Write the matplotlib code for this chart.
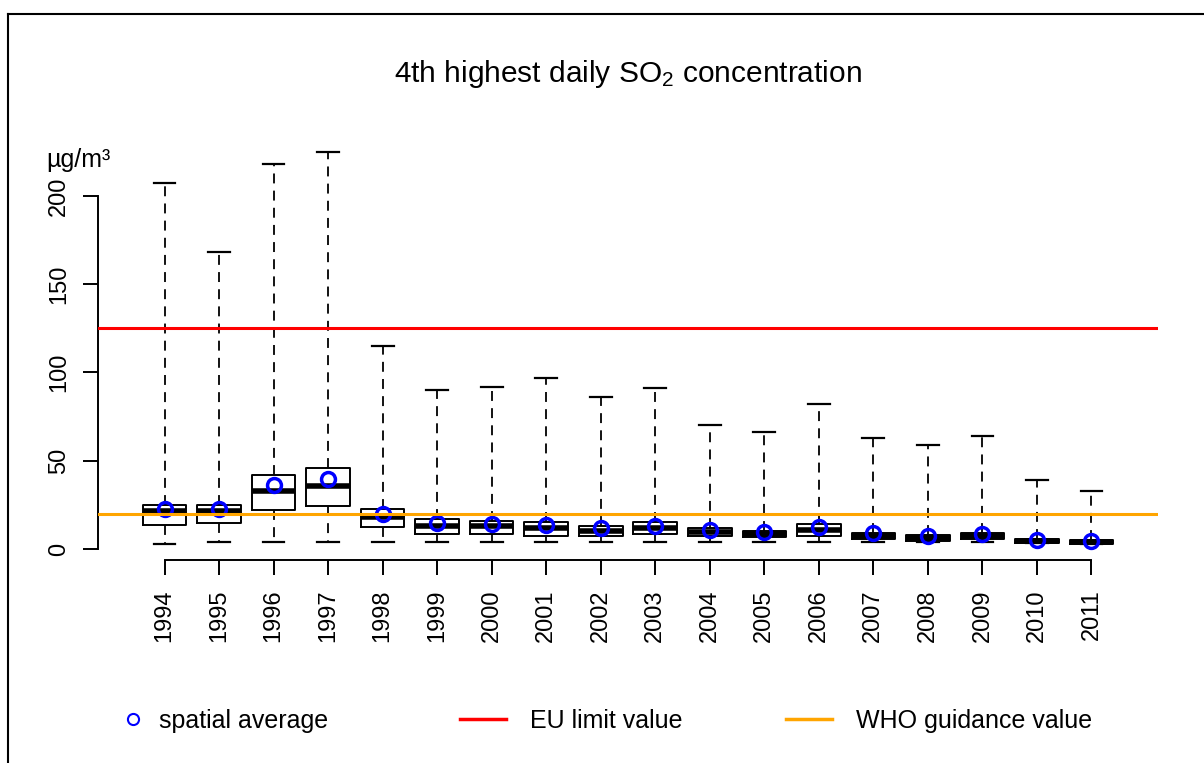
import matplotlib
matplotlib.use("Agg")
import matplotlib.pyplot as plt
from matplotlib.lines import Line2D

plt.rcParams["font.family"] = ["Liberation Sans", "DejaVu Sans"]
plt.rcParams["mathtext.default"] = "regular"

# values (ug/m3)
years = list(range(1994, 2012))
whis_hi = [207, 168, 218, 225, 115, 90, 92, 97, 86, 91, 70, 66, 82, 63, 59, 64, 39, 33]
q3 = [24.9, 24.9, 41.9, 45.7, 22.7, 17.0, 15.9, 15.1, 13.0, 15.1, 11.9, 10.4, 14.0, 9.2, 8.1, 8.9, 5.8, 5.1]
medians = [21.7, 21.7, 32.9, 35.9, 18.0, 13.0, 12.9, 11.7, 10.4, 12.1, 9.8, 8.5, 10.8, 7.4, 6.4, 7.4, 4.7, 4.0]
q1 = [13.6, 14.6, 21.9, 24.5, 12.6, 8.7, 8.5, 7.4, 7.6, 8.7, 7.6, 6.6, 7.6, 5.5, 4.5, 5.5, 3.6, 3.0]
whis_lo = [2.8, 3.8, 3.8, 3.8, 3.8, 4.0, 4.0, 4.0, 4.0, 4.0, 4.0, 4.0, 4.0, 4.0, 4.0, 4.0, 3.2, 2.8]
means = [22.5, 22.5, 36.1, 39.5, 19.7, 14.6, 14.3, 13.4, 11.9, 13.2, 10.6, 9.6, 12.3, 9.2, 7.4, 8.7, 5.1, 4.7]
eu_limit = 125
who_guide = 20

stats = []
for i in range(len(years)):
    stats.append({"label": str(years[i]), "med": medians[i], "q1": q1[i], "q3": q3[i],
                  "whislo": whis_lo[i], "whishi": whis_hi[i], "mean": means[i], "fliers": []})

fig = plt.figure(figsize=(12.04, 7.63), dpi=100)
ax = fig.add_axes([98 / 1204, 203 / 763, 1060 / 1204, 426 / 763])

ax.bxp(stats, positions=range(1, len(years) + 1), widths=0.8, showmeans=True,
       boxprops=dict(color="black", linewidth=1.4),
       medianprops=dict(color="black", linewidth=4, solid_capstyle="butt"),
       whiskerprops=dict(color="black", linewidth=1.3, linestyle=(0, (5.5, 4))),
       capprops=dict(color="black", linewidth=1.6),
       capwidths=0.4,
       meanprops=dict(marker="o", markerfacecolor="none", markeredgecolor="blue",
                      markersize=10, markeredgewidth=2.5), zorder=2)

ax.axhline(eu_limit, color="red", linewidth=2.2, zorder=3)
ax.axhline(who_guide, color="orange", linewidth=2.2, zorder=3)

ax.set_xlim(-0.22, 19.22)
ax.set_ylim(-6.2, 235)
for s in ["top", "right"]:
    ax.spines[s].set_visible(False)
ax.spines["left"].set_bounds(0, 200)
ax.spines["bottom"].set_bounds(1, 18)
for s in ["left", "bottom"]:
    ax.spines[s].set_linewidth(1.4)
ax.set_yticks([0, 50, 100, 150, 200])
ax.set_xticks(range(1, len(years) + 1))
ax.set_xticklabels([str(y) for y in years], rotation=90)
ax.tick_params(axis="y", labelrotation=90, length=11, width=1.4, pad=9, labelsize=17)
ax.tick_params(axis="x", length=11, width=1.4, pad=10, labelsize=17)
for lab in ax.get_yticklabels():
    lab.set_verticalalignment("center")

fig.text(628 / 1204, 1 - 74 / 763, "4th highest daily SO$_2$ concentration",
         ha="center", va="center", fontsize=21.5)
fig.text(46 / 1204, 1 - 160 / 763, "µg/m³", ha="left", va="center", fontsize=18)

# legend row under the chart
h1 = Line2D([], [], marker="o", linestyle="none", markerfacecolor="none",
            markeredgecolor="blue", markersize=8, markeredgewidth=1.5)
h2 = Line2D([], [], color="red", linewidth=2.5)
h3 = Line2D([], [], color="orange", linewidth=2.5)
leg_y = 1 - 721 / 763
for h, lab, x0, hl, tp in [(h1, "spatial average", 125, 0.6, 0.75),
                           (h2, "EU limit value", 460, 1.84, 0.95),
                           (h3, "WHO guidance value", 786, 1.84, 0.95)]:
    fig.legend([h], [lab], loc="center left", bbox_to_anchor=(x0 / 1204, leg_y),
               frameon=False, fontsize=18, handlelength=hl, handletextpad=tp,
               borderpad=0, borderaxespad=0)

fig.add_artist(Line2D([8 / 1204, 8 / 1204], [0, 1 - 14 / 763], color="black",
                      linewidth=1.5, transform=fig.transFigure))
fig.add_artist(Line2D([8 / 1204, 1], [1 - 14 / 763, 1 - 14 / 763], color="black",
                      linewidth=1.5, transform=fig.transFigure))

fig.savefig("out.png", dpi=100, facecolor="white")
